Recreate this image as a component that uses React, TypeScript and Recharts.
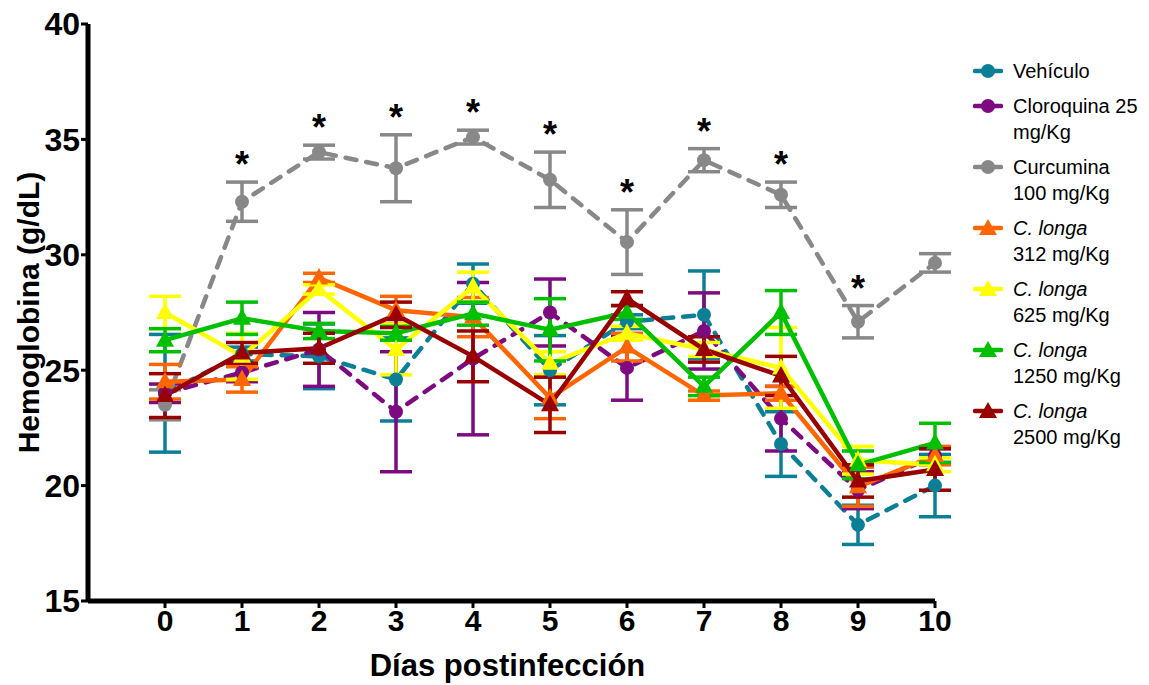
import React from "react"
import { ErrorBar, LabelList, Line, LineChart, XAxis, YAxis } from "recharts"

const days = [0, 1, 2, 3, 4, 5, 6, 7, 8, 9, 10]
const yTicks = [15, 20, 25, 30, 35, 40]

// Hemoglobin means (g/dL) and their error per group
const vehiculo = [24.0, 25.7, 25.6, 24.6, 28.75, 25.0, 27.1, 27.4, 21.8, 18.3, 20.0]
const vehiculoErr = [2.55, 0.3, 1.4, 1.8, 0.85, 1.5, 0.3, 1.9, 1.4, 0.85, 1.35]
const cloroquina = [24.0, 24.9, 25.9, 23.2, 25.5, 27.5, 25.1, 26.7, 22.9, 19.8, 21.3]
const cloroquinaErr = [0.4, 0.4, 1.6, 2.6, 3.3, 1.45, 1.4, 1.65, 1.4, 0.8, 0.3]
const curcumina = [23.5, 32.3, 34.45, 33.75, 35.1, 33.25, 30.55, 34.1, 32.6, 27.1, 29.65]
const curcuminaErr = [0.65, 0.85, 0.3, 1.45, 0.3, 1.2, 1.4, 0.5, 0.55, 0.7, 0.4]
const longa312 = [24.5, 24.6, 29.0, 27.6, 27.3, 23.8, 26.0, 23.9, 24.0, 19.95, 21.3]
const longa312Err = [0.75, 0.55, 0.2, 0.6, 0.85, 0.9, 0.6, 0.2, 0.3, 0.85, 0.4]
const longa625 = [27.5, 25.6, 28.5, 25.9, 28.6, 25.3, 26.6, 25.9, 25.1, 21.1, 20.9]
const longa625Err = [0.7, 1.0, 0.2, 1.1, 0.65, 0.5, 0.3, 0.3, 1.75, 0.6, 0.3]
const longa1250 = [26.3, 27.25, 26.7, 26.6, 27.45, 26.75, 27.5, 24.3, 27.5, 20.9, 21.85]
const longa1250Err = [0.5, 0.7, 0.33, 0.3, 0.5, 1.35, 0.3, 0.4, 0.95, 0.6, 0.85]
const longa2500 = [23.9, 25.75, 25.95, 27.4, 25.6, 23.5, 28.1, 25.9, 24.75, 20.2, 20.7]
const longa2500Err = [0.95, 0.45, 0.65, 0.55, 1.1, 1.2, 0.3, 0.55, 0.85, 0.7, 0.9]

// days where curcumina differs significantly (asterisk)
const significant = [false, true, true, true, true, true, true, true, true, true, false]

const FONT = "Arial, 'Liberation Sans', sans-serif"

type Series = {
  key: string
  values: number[]
  errors: number[]
  color: string
  marker: "circle" | "triangle"
  dashed: boolean
  title: string
  italic: boolean
  dose?: string
}

const series: Series[] = [
  { key: "vehiculo", values: vehiculo, errors: vehiculoErr, color: "#0b7f95", marker: "circle", dashed: true, title: "Vehículo", italic: false },
  { key: "cloroquina", values: cloroquina, errors: cloroquinaErr, color: "#7d0a80", marker: "circle", dashed: true, title: "Cloroquina 25", italic: false, dose: "mg/Kg" },
  { key: "curcumina", values: curcumina, errors: curcuminaErr, color: "#888888", marker: "circle", dashed: true, title: "Curcumina", italic: false, dose: "100 mg/Kg" },
  { key: "longa312", values: longa312, errors: longa312Err, color: "#ff6600", marker: "triangle", dashed: false, title: "C. longa", italic: true, dose: "312 mg/Kg" },
  { key: "longa625", values: longa625, errors: longa625Err, color: "#ffff00", marker: "triangle", dashed: false, title: "C. longa", italic: true, dose: "625 mg/Kg" },
  { key: "longa1250", values: longa1250, errors: longa1250Err, color: "#00c000", marker: "triangle", dashed: false, title: "C. longa", italic: true, dose: "1250 mg/Kg" },
  { key: "longa2500", values: longa2500, errors: longa2500Err, color: "#990000", marker: "triangle", dashed: false, title: "C. longa", italic: true, dose: "2500 mg/Kg" },
]

const rows = days.map((day, i) => {
  const row: Record<string, number | null> = { day }
  series.forEach((s) => {
    row[s.key] = s.values[i]
    row[s.key + "Err"] = s.errors[i]
  })
  row.star = significant[i] ? curcumina[i] + curcuminaErr[i] : null
  return row
})

function markerDot(s: Series) {
  return (props: any) => {
    const { cx, cy, index } = props
    if (cx == null || cy == null) return <g key={`${s.key}-${index}`} />
    if (s.marker === "circle") {
      return <circle key={`${s.key}-${index}`} cx={cx} cy={cy} r={7} fill={s.color} />
    }
    return (
      <polygon
        key={`${s.key}-${index}`}
        points={`${cx},${cy - 10} ${cx - 9},${cy + 6.5} ${cx + 9},${cy + 6.5}`}
        fill={s.color}
      />
    )
  }
}

const renderStar = (props: any) => {
  const { x, y, value, index } = props
  if (value == null || x == null || y == null) return null
  return (
    <text key={`star-${index}`} x={x} y={y - 5} textAnchor="middle" fontFamily={FONT} fontWeight="bold" fontSize={36} fill="#000">
      *
    </text>
  )
}

function LegendIcon({ s }: { s: Series }) {
  return (
    <svg width={30} height={18} style={{ flex: "none", marginTop: 4 }}>
      <line x1={2} y1={9} x2={28} y2={9} stroke={s.color} strokeWidth={4.5} strokeLinecap="round" />
      {s.marker === "circle" ? (
        <circle cx={15} cy={9} r={7} fill={s.color} />
      ) : (
        <polygon points="15,0 6,16 24,16" fill={s.color} />
      )}
    </svg>
  )
}

function SideLegend() {
  return (
    <div
      style={{
        position: "absolute",
        left: 973,
        top: 58,
        display: "flex",
        flexDirection: "column",
        gap: 9,
        fontFamily: FONT,
        fontSize: 20,
        lineHeight: "26px",
        color: "#000",
      }}
    >
      {series.map((s) => (
        <div key={s.key} style={{ display: "flex", gap: 10 }}>
          <LegendIcon s={s} />
          <div>
            <div style={{ fontStyle: s.italic ? "italic" : "normal", whiteSpace: "nowrap" }}>{s.title}</div>
            {s.dose && <div style={{ whiteSpace: "nowrap" }}>{s.dose}</div>}
          </div>
        </div>
      ))}
    </div>
  )
}

export default function App() {
  return (
    <div style={{ position: "absolute", left: 0, top: 0, width: 1149, height: 685, background: "#fff" }}>
      <LineChart width={1149} height={685} data={rows} margin={{ top: 24, right: 214, bottom: 0, left: 0 }}>
        <XAxis
          type="number"
          dataKey="day"
          domain={[-1, 10]}
          ticks={days}
          height={84}
          axisLine={{ stroke: "#000", strokeWidth: 5 }}
          tickLine={{ stroke: "#000", strokeWidth: 3 }}
          tickSize={7}
          tick={{ fill: "#000", fontFamily: FONT, fontWeight: "bold", fontSize: 30 }}
          label={{
            content: (p: any) => (
              <text
                x={p.viewBox.x + p.viewBox.width / 2 - 4}
                y={p.viewBox.y + 75}
                textAnchor="middle"
                fontFamily={FONT}
                fontWeight="bold"
                fontSize={31}
                fill="#000"
              >
                Días postinfección
              </text>
            ),
          }}
        />
        <YAxis
          type="number"
          domain={[15, 40]}
          ticks={yTicks}
          width={88}
          axisLine={{ stroke: "#000", strokeWidth: 5 }}
          tickLine={{ stroke: "#000", strokeWidth: 3 }}
          tickSize={7}
          tickMargin={1}
          tick={{ fill: "#000", fontFamily: FONT, fontWeight: "bold", fontSize: 32 }}
          label={{
            content: (p: any) => {
              const cx = p.viewBox.x + 28
              const cy = p.viewBox.y + p.viewBox.height / 2
              return (
                <text
                  x={cx}
                  y={cy}
                  transform={`rotate(-90, ${cx}, ${cy})`}
                  textAnchor="middle"
                  dominantBaseline="central"
                  fontFamily={FONT}
                  fontWeight="bold"
                  fontSize={30}
                  fill="#000"
                >
                  Hemoglobina (g/dL)
                </text>
              )
            },
          }}
        />
        {series.map((s) => (
          <Line
            key={s.key}
            dataKey={s.key}
            type="linear"
            stroke={s.color}
            strokeWidth={4.5}
            strokeDasharray={s.dashed ? "11 10" : undefined}
            strokeLinecap={s.dashed ? "round" : "butt"}
            dot={markerDot(s)}
            activeDot={false}
            isAnimationActive={false}
          >
            <ErrorBar dataKey={s.key + "Err"} direction="y" width={16} strokeWidth={3.5} stroke={s.color} isAnimationActive={false} />
          </Line>
        ))}
        <Line
          dataKey="star"
          stroke="none"
          dot={false}
          activeDot={false}
          legendType="none"
          isAnimationActive={false}
        >
          <LabelList dataKey="star" content={renderStar} />
        </Line>
      </LineChart>
      <SideLegend />
    </div>
  )
}
